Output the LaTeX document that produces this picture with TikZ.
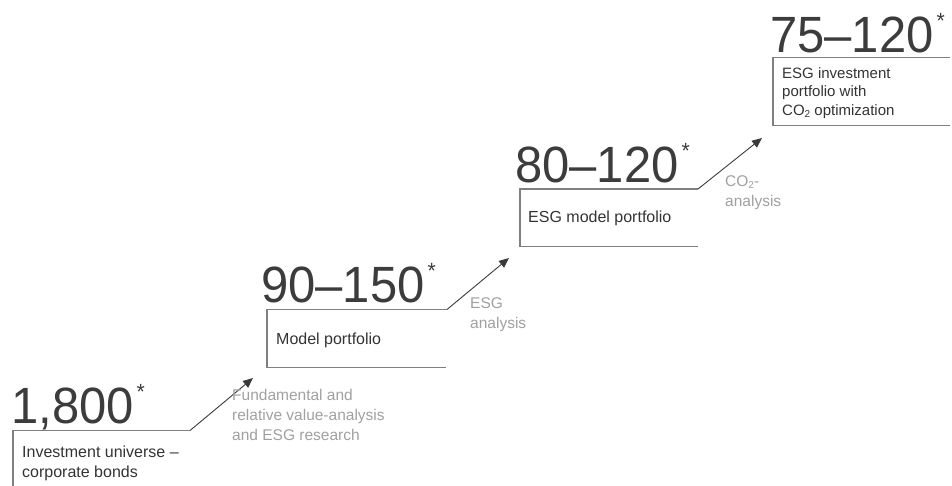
\documentclass[tikz,border=0pt]{standalone}
\usepackage{fontspec}
\setmainfont{Liberation Sans}
\newfontfamily\numfont{Liberation Sans}[FakeStretch=0.96]
\usetikzlibrary{arrows.meta}
\definecolor{numcol}{HTML}{3C3C3C}
\definecolor{labcol}{HTML}{333333}
\definecolor{anncol}{HTML}{A0A0A0}
\definecolor{boxcol}{HTML}{808080}
\definecolor{arrcol}{HTML}{3A3A3A}
\newcommand\bignum[1]{{\numfont\fontsize{51}{51}\selectfont #1\kern3pt\raisebox{24pt}{\fontsize{22}{22}\selectfont *}}}
\newcommand\lowtwo{\raisebox{-0.35ex}{\fontsize{10}{10}\selectfont 2}}
\begin{document}
\begin{tikzpicture}[x=1pt,y=-1pt,
  numtext/.style={anchor=base west,inner sep=0pt,text=numcol},
  labtext/.style={anchor=base west,inner sep=0pt,text=labcol,font=\fontsize{16}{20}\selectfont,align=left},
  labsmall/.style={anchor=base west,inner sep=0pt,text=labcol,font=\fontsize{15}{18.5}\selectfont,align=left},
  anntext/.style={anchor=base west,inner sep=0pt,text=anncol,font=\fontsize{15.5}{20}\selectfont,align=left},
  boxline/.style={draw=boxcol,line width=1.1pt},
  steparrow/.style={draw=arrcol,line width=0.9pt,-{Triangle[length=10pt,width=8.5pt]}}]
\useasboundingbox (0,0) rectangle (952,485);
% corner coordinates
\coordinate (b1bl) at (13,486);
\coordinate (b1tl) at (13,430.5);
\coordinate (b1tr) at (190,430.5);
\coordinate (a1) at (253,378);
\coordinate (b2bl) at (267,367.5);
\coordinate (b2br) at (446,367.5);
\coordinate (b2tl) at (267,309.5);
\coordinate (b2tr) at (447,309.5);
\coordinate (a2) at (509,258);
\coordinate (b3bl) at (520,246.5);
\coordinate (b3br) at (698,246.5);
\coordinate (b3tl) at (520,189);
\coordinate (b3tr) at (698,189);
\coordinate (a3) at (762,138);
\coordinate (b4bl) at (773,125.5);
\coordinate (b4br) at (950,125.5);
\coordinate (b4tl) at (773,57.5);
\coordinate (b4tr) at (950,57.5);
% boxes
\path[boxline] (b1bl) -- (b1tl) -- (b1tr);
\path[boxline] (b2br) -- (b2bl) -- (b2tl) -- (b2tr);
\path[boxline] (b3br) -- (b3bl) -- (b3tl) -- (b3tr);
\path[boxline] (b4br) -- (b4bl) -- (b4tl) -- (b4tr);
% arrows
\path[steparrow] (b1tr) -- (a1);
\path[steparrow] (b2tr) -- (a2);
\path[steparrow] (b3tr) -- (a3);
% numbers
\node[numtext] (n1) at (11,423) {\bignum{1,800}};
\node[numtext] (n2) at (261,302) {\bignum{90–150}};
\node[numtext] (n3) at (515,182) {\bignum{80–120}};
\node[numtext] (n4) at (770,52) {\bignum{75–120}};
% box labels (base = last line)
\node[labtext] (l1) at (22,477) {Investment universe –\\corporate bonds};
\node[labtext] (l2) at (276,344) {Model portfolio};
\node[labtext] (l3) at (528,222) {ESG model portfolio};
\node[labsmall] (l4) at (782,115) {ESG investment\\portfolio with\\CO\lowtwo{} optimization};
% annotations (base = last line)
\node[anntext] (t1) at (232,440) {Fundamental and\\relative value-analysis\\and ESG research};
\node[anntext] (t2) at (470,328) {ESG\\analysis};
\node[anntext] (t3) at (725,206) {CO\lowtwo-\\analysis};
\end{tikzpicture}
\end{document}
